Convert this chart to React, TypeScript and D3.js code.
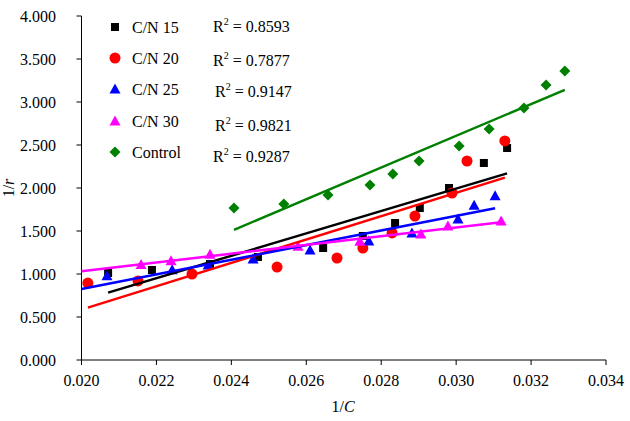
import React from "react";
import * as d3 from "d3";

const seriesNames = ["C/N 15", "C/N 20", "C/N 25", "C/N 30", "Control"];
const r2Values = ["0.8593", "0.7877", "0.9147", "0.9821", "0.9287"];
const xTicks = [0.02, 0.022, 0.024, 0.026, 0.028, 0.03, 0.032, 0.034];
const yTicks = [0, 0.5, 1, 1.5, 2, 2.5, 3, 3.5, 4];

const cn15X = [0.02071, 0.02188, 0.02343, 0.02471, 0.02645, 0.02751, 0.02837, 0.02903, 0.02981, 0.03074, 0.03136];
const cn15Y = [1.012, 1.047, 1.116, 1.198, 1.302, 1.442, 1.593, 1.767, 2.0, 2.291, 2.465];
const cn20X = [0.02017, 0.02151, 0.02295, 0.02522, 0.02682, 0.02751, 0.02829, 0.0289, 0.02989, 0.03029, 0.0313];
const cn20Y = [0.895, 0.919, 1.0, 1.081, 1.186, 1.302, 1.477, 1.674, 1.942, 2.314, 2.547];
const cn25X = [0.02068, 0.02242, 0.02338, 0.02458, 0.0261, 0.02767, 0.02882, 0.03005, 0.03048, 0.03104];
const cn25Y = [0.98, 1.05, 1.105, 1.175, 1.28, 1.385, 1.477, 1.64, 1.8, 1.91];
const cn30X = [0.02159, 0.02239, 0.02343, 0.02578, 0.02743, 0.02906, 0.02978, 0.0312];
const cn30Y = [1.11, 1.155, 1.23, 1.322, 1.38, 1.465, 1.558, 1.616];
const ctrlX = [0.02407, 0.0254, 0.02658, 0.0277, 0.02831, 0.02901, 0.03008, 0.03088, 0.03181, 0.0324, 0.0329];
const ctrlY = [1.767, 1.814, 1.919, 2.035, 2.163, 2.314, 2.488, 2.686, 2.93, 3.198, 3.36];

// trendline backward extension start (null = start at first point)
const trendStart: (number | null)[] = [null, null, 0.02, 0.02, null];

const colors = ["#000000", "#ff0000", "#0000ff", "#ff00ff", "#008000"];
const shapes = ["square", "circle", "triangle", "triangle", "diamond"];

const seriesX = [cn15X, cn20X, cn25X, cn30X, ctrlX];
const seriesY = [cn15Y, cn20Y, cn25Y, cn30Y, ctrlY];

const W = 630;
const H = 421;
const x = d3.scaleLinear().domain([0.02, 0.034]).range([81.5, 606]);
const y = d3.scaleLinear().domain([0, 4]).range([360, 16]);
const FONT = '"Liberation Serif", "DejaVu Serif", "Times New Roman", serif';
const tStyle = { fontFamily: FONT, fontSize: "16px" } as React.CSSProperties;

function ols(xs: number[], ys: number[]) {
  const mx = d3.mean(xs)!;
  const my = d3.mean(ys)!;
  let sxy = 0;
  let sxx = 0;
  xs.forEach((v, i) => {
    sxy += (v - mx) * (ys[i] - my);
    sxx += (v - mx) * (v - mx);
  });
  const b = sxy / sxx;
  return { b, a: my - b * mx };
}

function Marker({ shape, cx, cy, color }: { shape: string; cx: number; cy: number; color: string }) {
  if (shape === "square") return <rect x={cx - 4} y={cy - 4} width={8} height={8} fill={color} />;
  if (shape === "circle") return <circle cx={cx} cy={cy} r={5.5} fill={color} />;
  if (shape === "triangle")
    return <path d={`M${cx},${cy - 5.5}L${cx + 5.5},${cy + 4.5}L${cx - 5.5},${cy + 4.5}Z`} fill={color} />;
  return <path d={`M${cx},${cy - 5.5}L${cx + 5.5},${cy}L${cx},${cy + 5.5}L${cx - 5.5},${cy}Z`} fill={color} />;
}

export default function App() {
  const legendY = [27, 58, 89, 121, 152];
  const r2X = [213, 213, 215, 215, 213];
  const r2Y = [32, 66, 97, 131, 162];
  return (
    <svg width={W} height={H} style={{ position: "absolute", left: 0, top: 0, background: "#fff" }}>
      {/* axes */}
      <line x1={x(0.02)} x2={x(0.02)} y1={y(4)} y2={y(0)} stroke="#000" strokeWidth={1} />
      <line x1={x(0.02)} x2={x(0.034)} y1={y(0)} y2={y(0)} stroke="#000" strokeWidth={1} />
      {yTicks.map((t) => (
        <g key={"y" + t}>
          <line x1={x(0.02) - 5} x2={x(0.02)} y1={y(t)} y2={y(t)} stroke="#000" />
          <text x={56} y={y(t)} dy="0.35em" textAnchor="end" style={tStyle}>
            {t.toFixed(3)}
          </text>
        </g>
      ))}
      {xTicks.map((t) => (
        <g key={"x" + t}>
          <line x1={x(t)} x2={x(t)} y1={y(0)} y2={y(0) + 5} stroke="#000" />
          <text x={x(t)} y={386} textAnchor="middle" style={tStyle}>
            {t.toFixed(3)}
          </text>
        </g>
      ))}
      <text x={343} y={412} textAnchor="middle" style={tStyle}>
        1/<tspan fontStyle="italic">C</tspan>
      </text>
      <text transform="translate(14,188) rotate(-90)" textAnchor="middle" style={tStyle}>
        1/<tspan fontStyle="italic">r</tspan>
      </text>
      {/* markers */}
      {seriesX.map((xs, si) =>
        xs.map((v, i) => (
          <Marker key={si + "-" + i} shape={shapes[si]} cx={x(v)} cy={y(seriesY[si][i])} color={colors[si]} />
        ))
      )}
      {/* trendlines */}
      {seriesX.map((xs, si) => {
        const { a, b } = ols(xs, seriesY[si]);
        const x0 = trendStart[si] ?? d3.min(xs)!;
        const x1 = d3.max(xs)!;
        return (
          <line
            key={"t" + si}
            x1={x(x0)}
            y1={y(a + b * x0)}
            x2={x(x1)}
            y2={y(a + b * x1)}
            stroke={colors[si]}
            strokeWidth={2.5}
          />
        );
      })}
      {/* legend */}
      {seriesNames.map((n, i) => (
        <g key={"l" + i}>
          <Marker shape={shapes[i]} cx={115} cy={legendY[i]} color={colors[i]} />
          <text x={132} y={legendY[i]} dy="0.35em" style={tStyle}>
            {n}
          </text>
          <text x={r2X[i]} y={r2Y[i]} style={tStyle}>
            R<tspan dy={-7} style={{ fontSize: "10px" }}>2</tspan>
            <tspan dy={7}> = {r2Values[i]}</tspan>
          </text>
        </g>
      ))}
    </svg>
  );
}
